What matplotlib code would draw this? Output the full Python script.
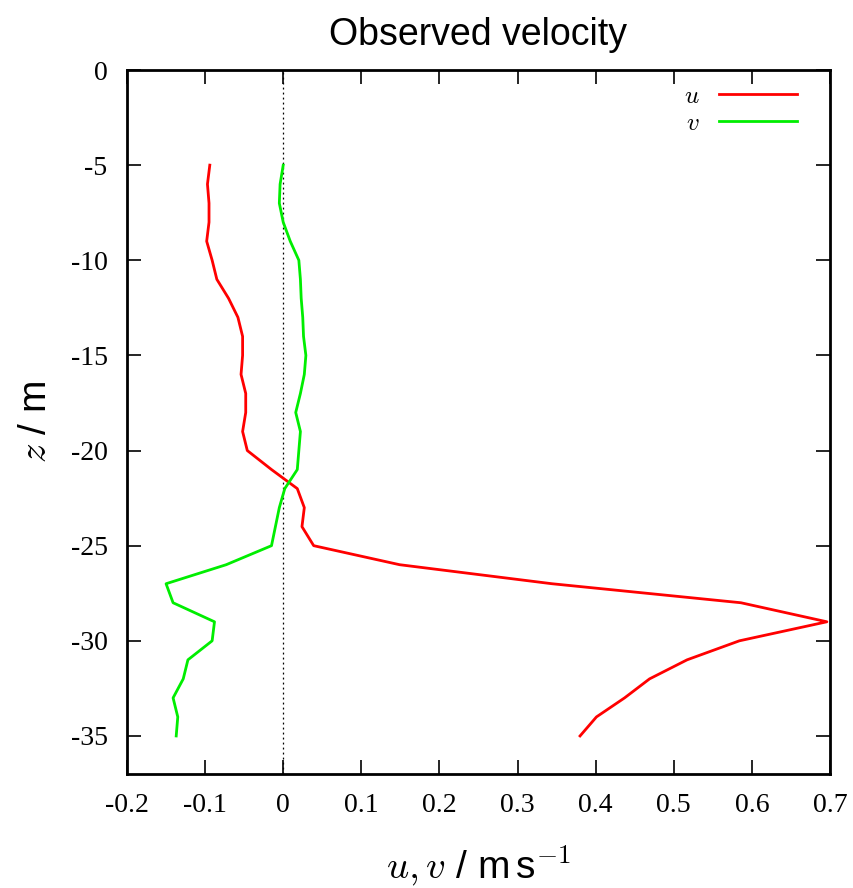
import matplotlib
matplotlib.use("Agg")
import matplotlib.pyplot as plt

# depth levels (m) and velocity components (m/s)
z = [-5, -6, -7, -8, -9, -10, -11, -12, -13, -14, -15, -16, -17, -18, -19, -20,
     -21, -22, -23, -24, -25, -26, -27, -28, -29, -30, -31, -32, -33, -34, -35]
u = [-0.094, -0.097, -0.095, -0.095, -0.098, -0.091, -0.085, -0.070, -0.058, -0.052,
     -0.052, -0.054, -0.048, -0.048, -0.052, -0.046, -0.015, 0.018, 0.027, 0.024,
     0.039, 0.149, 0.344, 0.586, 0.696, 0.584, 0.517, 0.469, 0.437, 0.401, 0.380]
v = [0.000, -0.004, -0.005, 0.000, 0.009, 0.020, 0.022, 0.023, 0.025, 0.026,
     0.029, 0.027, 0.022, 0.016, 0.022, 0.020, 0.018, 0.002, -0.005, -0.010,
     -0.015, -0.073, -0.150, -0.141, -0.088, -0.091, -0.122, -0.128, -0.141, -0.135, -0.137]

xticks = [-0.2, -0.1, 0, 0.1, 0.2, 0.3, 0.4, 0.5, 0.6, 0.7]
xticklabels = ["-0.2", "-0.1", "0", "0.1", "0.2", "0.3", "0.4", "0.5", "0.6", "0.7"]
yticks = [0, -5, -10, -15, -20, -25, -30, -35]
yticklabels = ["0", "-5", "-10", "-15", "-20", "-25", "-30", "-35"]

plt.rcParams["mathtext.fontset"] = "cm"

fig = plt.figure(figsize=(8.54, 8.88), dpi=100)
ax = fig.add_axes([127 / 854, 1 - 774 / 888, (830 - 127) / 854, (774 - 70) / 888])

ax.axvline(0, color="black", lw=0.9, ls=(0, (1.5, 2.5)))
ax.plot(u, z, color="#ff0000", lw=2, label="$u$")
ax.plot(v, z, color="#00ee00", lw=2, label="$v$")

ax.set_xlim(-0.2, 0.7)
ax.set_ylim(-37, 0)
ax.set_xticks(xticks)
ax.set_xticklabels(xticklabels, family="Liberation Serif", fontsize=20)
ax.set_yticks(yticks)
ax.set_yticklabels(yticklabels, family="Liberation Serif", fontsize=20)
ax.tick_params(direction="in", length=10, width=1.2, top=True, right=True, pad=14)
for s in ax.spines.values():
    s.set_linewidth(2)

ax.set_title("Observed velocity", family="Liberation Sans", fontsize=27, pad=18)
ax.set_xlabel(r"$u, v$ / m$\,$s$^{-1}$", family="Liberation Sans", fontsize=28, labelpad=18)
ax.set_ylabel(r"$z$ / m", family="Liberation Sans", fontsize=28, labelpad=12)

leg = ax.legend(loc="upper right", frameon=False, markerfirst=False, fontsize=18,
                handlelength=3.1, handletextpad=0.8, borderpad=0, borderaxespad=0,
                labelspacing=0.1, bbox_to_anchor=(0.953, 0.98))

fig.savefig("out.png", dpi=100)
